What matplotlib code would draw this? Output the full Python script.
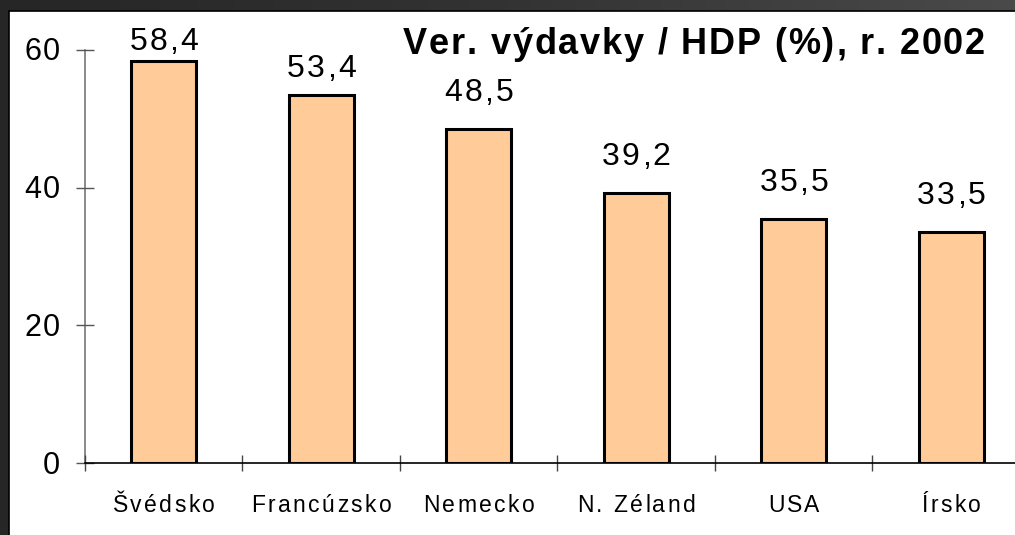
import matplotlib
matplotlib.use('Agg')
import matplotlib.pyplot as plt
import numpy as np
from matplotlib.patches import Rectangle
from matplotlib import font_manager
from matplotlib.font_manager import FontProperties
from matplotlib.ft2font import FT2Font

# data
krajiny = ['Švédsko', 'Francúzsko', 'Nemecko', 'N. Zéland', 'USA', 'Írsko']
vydavky = [58.4, 53.4, 48.5, 39.2, 35.5, 33.5]
y_ticky = [0, 20, 40, 60]
nadpis = 'Ver. výdavky / HDP (%), r. 2002'

# posun popisov nad stlpcami (px), prve dva su stlacene k hornemu okraju
posun_popisu = [11, 18, 28, 28, 28, 28]

FONT = 'Liberation Sans'
plt.rcParams['font.family'] = [FONT, 'DejaVu Sans']

W, H = 1015, 535
PX = 72 / 100  # pixel -> point


def sirky(s, size, weight):
    # posuny jednotlivych znakov v bodoch
    fp = FontProperties(family=FONT, weight=weight, size=size)
    f = FT2Font(font_manager.findfont(fp))
    f.set_size(size, 72)
    return [f.load_char(ord(c)).linearHoriAdvance / 65536 for c in s]


def text_roztiahnuty(ax, x, y, s, size, track, ha='center', dy=0, dx=0,
                     weight='normal', xycoords='data'):
    # text s vacsimi medzerami medzi pismenami (ako v originali)
    adv = sirky(s, size, weight)
    t = track * PX
    total = sum(adv) + t * (len(s) - 1)
    pos = {'left': 0, 'center': -total / 2, 'right': -total}[ha] + dx * PX
    for c, a in zip(s, adv):
        if c != ' ':
            ax.annotate(c, (x, y), xycoords=xycoords, xytext=(pos, dy * PX),
                        textcoords='offset points', ha='left', va='baseline',
                        fontsize=size, fontweight=weight, annotation_clip=False)
        pos += a + t


fig = plt.figure(figsize=(W / 100, H / 100), dpi=100)

# tmavy ram okolo grafu (gradient)
bg = fig.add_axes([0, 0, 1, 1], zorder=-10)
grad = np.linspace(0, 1, 256).reshape(1, -1)
bg.imshow(grad, aspect='auto', cmap=matplotlib.colors.LinearSegmentedColormap.from_list(
    'ram', ['#262626', '#333333', '#4a4a4a']), extent=[0, 1, 0, 1])
bg.set_xlim(0, 1)
bg.set_ylim(0, 1)
bg.axis('off')
bg.add_patch(Rectangle((9 / W, -0.01), 1.0, (H - 11) / H + 0.01,
                       facecolor='white', edgecolor='black', linewidth=1.2))

# os grafu
x0, y0 = 85, 463
ax = fig.add_axes([x0 / W, (H - y0) / H, 945 / W, 413 / H])
ax.set_facecolor('none')

x = np.arange(len(krajiny))
ax.bar(x, vydavky, width=0.41, color='#FFCC99', edgecolor='black', linewidth=2.2, zorder=3)

for xi, v, p in zip(x, vydavky, posun_popisu):
    text_roztiahnuty(ax, xi, v, f'{v:.1f}'.replace('.', ','), 23, 2.2, dy=p)

ax.set_xlim(-0.5, len(krajiny) - 0.5)
ax.set_ylim(0, 60)
ax.set_yticks(y_ticky)
ax.set_yticklabels([])
ax.set_xticks(np.arange(len(krajiny) + 1) - 0.5)
ax.set_xticklabels([])
ax.tick_params(axis='x', direction='inout', length=12, width=1, color='#444444')
ax.tick_params(axis='y', direction='inout', length=13, width=1, color='#555555')

# popisky osi
for yv in y_ticky:
    text_roztiahnuty(ax, 0, yv, str(yv), 22, 2.0, ha='right', dx=-25, dy=-10.5,
                     xycoords=ax.get_yaxis_transform())
for xi, k in zip(x, krajiny):
    text_roztiahnuty(ax, xi, 0, k, 16.5, 2.4, dy=-49,
                     xycoords=ax.get_xaxis_transform())

for s in ['top', 'right']:
    ax.spines[s].set_visible(False)
ax.spines['left'].set_color('#777777')
ax.spines['left'].set_linewidth(1.2)
ax.spines['bottom'].set_color('black')
ax.spines['bottom'].set_linewidth(1.2)
ax.spines['left'].set_zorder(1)

# nadpis
text_roztiahnuty(bg, 985 / W, 1 - 54 / H, nadpis, 26, 1.8, ha='right',
                 weight='bold', xycoords='axes fraction')

fig.savefig('out.png', dpi=100, facecolor='#2b2b2b')
